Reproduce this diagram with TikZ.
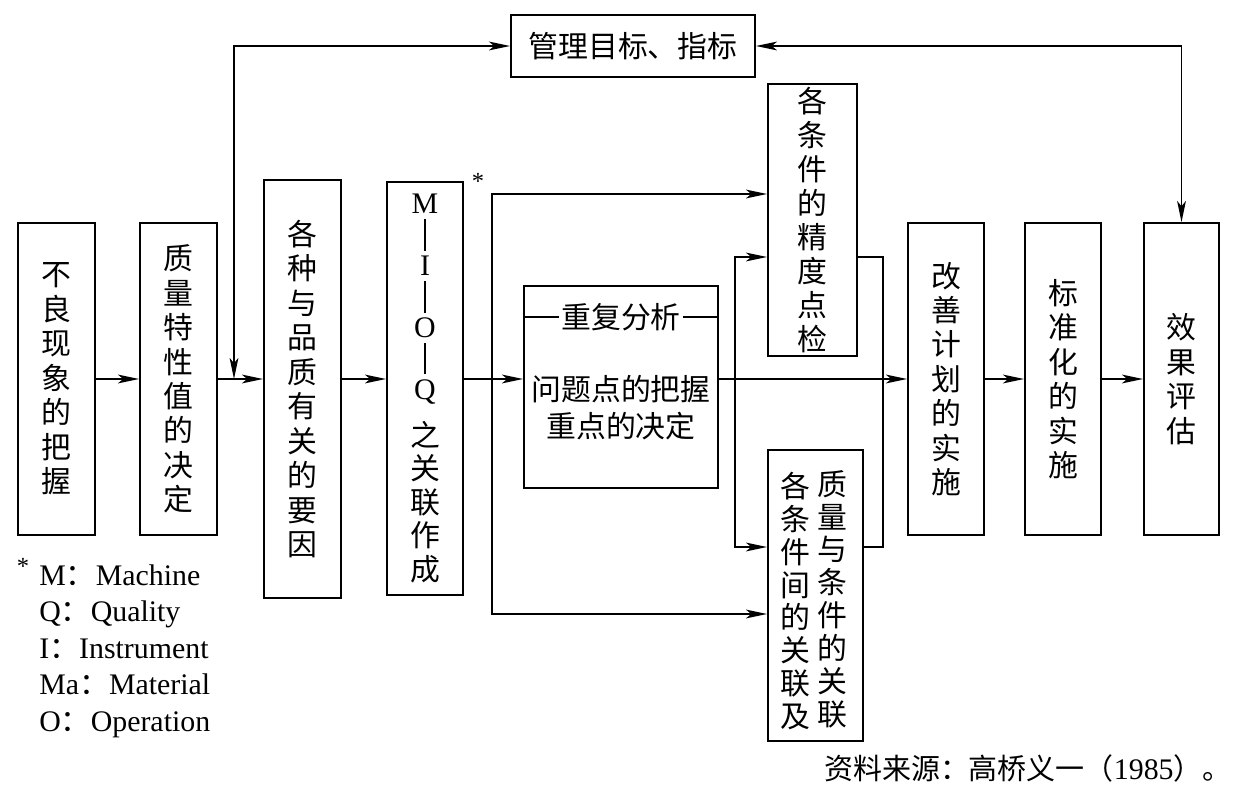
\documentclass[tikz,border=0pt]{standalone}
\usepackage{fontspec}
\setmainfont{Liberation Serif}
\newfontfamily\cjk{Noto Sans CJK SC}
\usetikzlibrary{arrows.meta}
\newcommand\mioqbar{\rule[-3.4pt]{0.6pt}{18pt}}

\begin{document}
\begin{tikzpicture}[x=0.02cm,y=-0.02cm,
    >={Stealth[length=12pt,width=5pt,inset=3pt]},
    box/.style={draw,line width=1.1pt,inner sep=0pt,align=center,
      font=\cjk\fontsize{17}{19.6}\selectfont},
    line/.style={line width=0.9pt},
    txt/.style={inner sep=1pt,align=center,font=\cjk\fontsize{17}{19.6}\selectfont}]
  \useasboundingbox (0,0) rectangle (1251,804);
  \def\ymain{379}
  \coordinate (m) at (0,\ymain);
  \coordinate (fb) at (234,\ymain);
  \coordinate (s1) at (492,\ymain);
  \coordinate (s2) at (735,\ymain);
  \coordinate (j) at (883,\ymain);
  \coordinate (p1) at (0,194);
  \coordinate (p2) at (0,614);
  \coordinate (q1) at (0,257);
  \coordinate (q2) at (0,547);

  % BOXES
  \node[box,minimum width=1.54cm,minimum height=6.24cm] (b1) at (56.5,379) {不\\良\\现\\象\\的\\把\\握};
  \node[box,minimum width=1.54cm,minimum height=6.24cm] (b2) at (178.5,379) {质\\量\\特\\性\\值\\的\\决\\定};
  \node[box,minimum width=1.54cm,minimum height=8.36cm] (b3) at (302.5,389) {各\\种\\与\\品\\质\\有\\关\\的\\要\\因};
  \node[box,minimum width=1.52cm,minimum height=8.26cm,font=\cjk\fontsize{17}{19}\selectfont] (b4) at (425,388.5)
    {{\rmfamily M}\\[-1.4pt]\mioqbar\\[-1.4pt]{\rmfamily I}\\[-1.4pt]\mioqbar\\[-1.4pt]{\rmfamily O}\\[-1.4pt]\mioqbar\\[-1.4pt]{\rmfamily Q}\\[7.9pt]之\\关\\联\\作\\成};
  \node[box,minimum width=3.88cm,minimum height=4.04cm] (b5) at (621,387) {};
  \node[box,minimum width=1.78cm,minimum height=5.44cm,font=\cjk\fontsize{17}{19.3}\selectfont] (b6) at (812.5,220) {各\\条\\件\\的\\精\\度\\点\\检};
  \node[box,minimum width=1.9cm,minimum height=5.82cm] (b7) at (815.5,595.5) {};
  \node[box,minimum width=1.52cm,minimum height=6.24cm] (b8) at (946,379) {改\\善\\计\\划\\的\\实\\施};
  \node[box,minimum width=1.52cm,minimum height=6.24cm] (b9) at (1063,379) {标\\准\\化\\的\\实\\施};
  \node[box,minimum width=1.5cm,minimum height=6.24cm] (b10) at (1181.5,379) {效\\果\\评\\估};
  \node[box,minimum width=4.88cm,minimum height=1.24cm] (b11) at (633,46) {管理目标、指标};

  % TEXT IN THE OPEN BOXES
  \node[txt] (rt) at (621,317) {重复分析};
  \node[txt,font=\cjk\fontsize{17}{21}\selectfont] (rq) at (621,408) {问题点的把握\\重点的决定};
  \draw[line] (b5.west |- rt) -- (rt.west);
  \draw[line] (rt.east) -- (b5.east |- rt);
  \node[txt,font=\cjk\fontsize{17}{18.7}\selectfont] (b7r) at (832,599) {质\\量\\与\\条\\件\\的\\关\\联};
  \node[txt,font=\cjk\fontsize{17}{18.7}\selectfont] (b7l) at (795,601) {各\\条\\件\\间\\的\\关\\联\\及};

  % MAIN LINE
  \draw[line,->] (b1.east |- m) -- (b2.west |- m);
  \draw[line,->] (b2.east |- m) -- (b3.west |- m);
  \draw[line,->] (b3.east |- m) -- (b4.west |- m);
  \draw[line,->] (b4.east |- m) -- (b5.west |- m);
  \draw[line,->] (b5.east |- m) -- (b8.west |- m);
  \draw[line,->] (b8.east) -- (b9.west);
  \draw[line,->] (b9.east) -- (b10.west);

  % BRANCHES
  \draw[line,->] (s1) |- (b6.west |- p1);
  \draw[line,->] (s1) |- (b7.west |- p2);
  \draw[line,->] (s2) |- (b6.west |- q1);
  \draw[line,->] (s2) |- (b7.west |- q2);
  \draw[line] (b6.east |- q1) -| (j |- q2) -- (b7.east |- q2);

  % FEEDBACK
  \draw[line,<->] (fb) |- (b11.west);
  \draw[line,<->] (b11.east) -| (b10.north);

  % NOTES
  \node[inner sep=0pt,font=\fontsize{14}{14}\selectfont] (st) at (478,181) {*};
  \node[inner sep=0pt,font=\fontsize{14}{14}\selectfont] (st2) at (23,566) {*};
  \node[anchor=west,inner sep=0pt,align=left,font=\fontsize{17}{20.8}\selectfont] (leg) at (39,651)
    {M{\cjk ：}Machine\\Q{\cjk ：}Quality\\I{\cjk ：}Instrument\\Ma{\cjk ：}Material\\O{\cjk ：}Operation};
  \node[anchor=east,inner sep=0pt,font=\cjk\fontsize{16.5}{16.5}\selectfont] (src) at (1232,768)
    {资料来源：高桥义一（{\rmfamily\fontsize{17}{17}\selectfont 1985}）。};
\end{tikzpicture}
\end{document}
